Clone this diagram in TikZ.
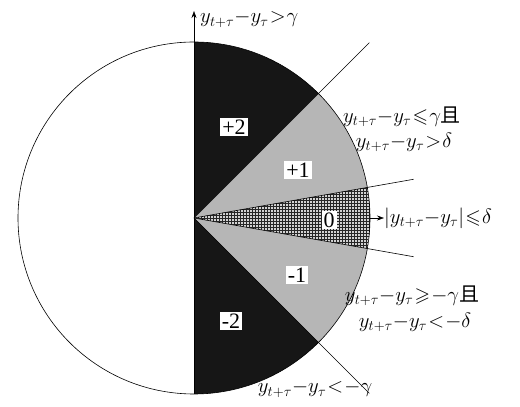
\documentclass[tikz,border=0pt]{standalone}
\usepackage{amssymb}
\usepackage{fontspec}
\setmainfont{Liberation Serif}
\newfontfamily\cjk{Noto Sans CJK SC}
\usetikzlibrary{patterns,arrows.meta,calc}
\definecolor{darkfill}{HTML}{161616}
\definecolor{lightfill}{HTML}{B6B6B6}
\newcommand\tightmath{\thickmuskip=1mu\relax\medmuskip=0mu\relax}
\tikzset{
  numlabel/.style={fill=white,inner sep=2pt,font=\fontsize{22}{24}\selectfont},
  condlabel/.style={inner sep=0pt,font=\fontsize{20}{22}\selectfont\tightmath},
  thinline/.style={line width=0.6pt}
}
\begin{document}
\begin{tikzpicture}[x=1pt,y=1pt]
\useasboundingbox (0,0) rectangle (520,407);
\coordinate (O) at (194,189);
\def\R{176}
% sectors
\fill[darkfill] (O) -- ++(90:\R) arc[start angle=90,end angle=45,radius=\R] -- cycle;
\fill[lightfill] (O) -- ++(45:\R) arc[start angle=45,end angle=10,radius=\R] -- cycle;
\fill[lightfill!60] (O) -- ++(10:\R) arc[start angle=10,end angle=-10,radius=\R] -- cycle;
\fill[pattern=grid,pattern color=black!85] (O) -- ++(10:\R) arc[start angle=10,end angle=-10,radius=\R] -- cycle;
\fill[lightfill] (O) -- ++(-10:\R) arc[start angle=-10,end angle=-45,radius=\R] -- cycle;
\fill[darkfill] (O) -- ++(-45:\R) arc[start angle=-45,end angle=-90,radius=\R] -- cycle;
% circle
\node[circle,draw,thinline,minimum size=2*\R pt,inner sep=0pt] (C) at (O) {};
% rays
\coordinate (r1) at ($(O)+(45:248)$);
\coordinate (r2) at ($(O)+(10:223)$);
\coordinate (r3) at ($(O)+(-10:223)$);
\coordinate (r4) at ($(O)+(-45:248)$);
\draw[thinline] (O) -- (r1);
\draw[thinline] (O) -- (r2);
\draw[thinline] (O) -- (r3);
\draw[thinline] (O) -- (r4);
% axis
\coordinate (ax0) at (194,13);
\coordinate (ax1) at (194,396);
\draw[thinline,-{Stealth[length=7pt,width=5pt]}] (ax0) -- (ax1);
% sector labels
\node[numlabel] (p2) at (234,280) {+2};
\node[numlabel] (p1) at (298,237) {+1};
\node[numlabel] (z0) at (329,187) {0};
\node[numlabel] (m1) at (297,132) {-1};
\node[numlabel] (m2) at (231,86) {-2};
% conditions
\node[condlabel,anchor=west] (t1) at (200,388) {$y_{t+\tau}-y_\tau>\gamma$};
\node[condlabel] (u1) at (402,289) {$y_{t+\tau}-y_\tau\leqslant\gamma${\cjk\smash{且}}};
\node[condlabel] (u2) at (404,265) {$y_{t+\tau}-y_\tau>\delta$};
\coordinate (za) at (370,189);
\node[condlabel,anchor=west] (zl) at (384,189) {$|y_{t+\tau}-y_\tau|\leqslant\delta$};
\draw[thinline,-{Stealth[length=7pt,width=5pt]}] (za) -- (zl.west);
\node[condlabel] (l1) at (412,110) {$y_{t+\tau}-y_\tau\geqslant-\gamma${\cjk\smash{且}}};
\node[condlabel] (l2) at (415,85) {$y_{t+\tau}-y_\tau<-\delta$};
\node[condlabel] (b1) at (315,18) {$y_{t+\tau}-y_\tau<-\gamma$};
\end{tikzpicture}
\end{document}
